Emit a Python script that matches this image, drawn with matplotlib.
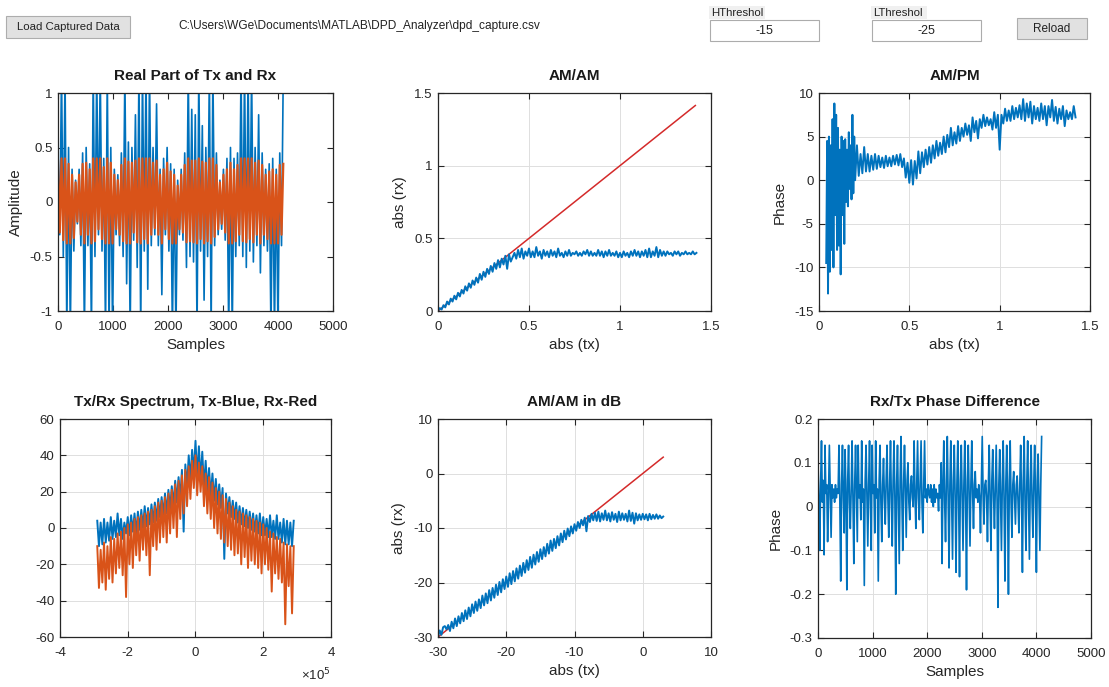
import matplotlib
matplotlib.use("Agg")
import matplotlib.pyplot as plt
import matplotlib.ticker as mticker
from matplotlib.patches import Rectangle
import numpy as np

plt.rcParams['font.family'] = ['Liberation Sans', 'DejaVu Sans']
plt.rcParams['axes.unicode_minus'] = False

blue = '#0072BD'
orange = '#D95319'
red = '#D42A2A'

# ---- data ----
# real part of tx / rx, one value every 32 samples
real_step = 32
tx_real = [0.45, -0.3, 1.2, -0.5, 1.2, -1.2, 0.5, -1.2, 0.3, -0.45,
           0.2, -0.2, 0.3, -0.4, 0.45, -1.2, 0.5, -0.4, 0.35, -1.2,
           1.2, -0.5, 1.2, -0.3, 1.2, -0.45, 0.4, -1.2, 1.2, -1.2,
           0.5, -1.2, 0.3, -0.3, 0.25, -0.4, 0.45, -0.5, 1.2, -0.75,
           0.55, -1.2, 0.5, -0.35, 0.8, -0.6, 1.2, -1.2, 1.2, -0.45,
           1.2, -0.8, 1.2, -0.4, 0.5, -0.3, 0.9, -0.4, 0.3, -0.85,
           0.4, -0.3, 0.5, -0.45, 0.35, -1.2, 0.3, -1.2, 0.2, -0.3,
           0.3, -0.35, 0.45, -0.6, 1.2, -0.5, 0.85, -0.55, 0.8, -1.2,
           1.2, -0.45, 0.7, -0.9, 0.5, -0.5, 1.2, -1.2, 1.2, -0.4,
           0.45, -0.3, 0.2, -0.25, 0.3, -0.35, 0.4, -1.2, 0.5, -1.2,
           0.4, -0.5, 0.45, -0.4, 1.2, -0.5, 1.2, -0.6, 1.2, -0.45,
           1.2, -0.55, 0.5, -0.4, 0.8, -0.65, 0.45, -0.4, 0.3, -0.45,
           0.35, -1.2, 0.4, -1.2, 0.3, -1.2, 0.45, -0.4, 1.2]
rx_real = [0.38, -0.28, 0.4, -0.35, 0.4, -0.38, 0.35, -0.38, 0.25, -0.33,
           0.18, -0.18, 0.25, -0.3, 0.35, -0.38, 0.36, -0.3, 0.3, -0.38,
           0.4, -0.36, 0.4, -0.25, 0.4, -0.34, 0.32, -0.38, 0.4, -0.38,
           0.36, -0.38, 0.25, -0.25, 0.2, -0.3, 0.34, -0.36, 0.4, -0.38,
           0.37, -0.38, 0.36, -0.28, 0.38, -0.37, 0.4, -0.38, 0.4, -0.34,
           0.4, -0.38, 0.4, -0.3, 0.36, -0.24, 0.38, -0.3, 0.25, -0.38,
           0.3, -0.25, 0.36, -0.34, 0.28, -0.38, 0.25, -0.38, 0.15, -0.25,
           0.25, -0.28, 0.34, -0.37, 0.4, -0.36, 0.38, -0.37, 0.38, -0.38,
           0.4, -0.34, 0.37, -0.38, 0.36, -0.36, 0.4, -0.38, 0.4, -0.32,
           0.34, -0.25, 0.18, -0.2, 0.25, -0.28, 0.3, -0.38, 0.36, -0.38,
           0.3, -0.36, 0.34, -0.3, 0.4, -0.36, 0.4, -0.37, 0.4, -0.34,
           0.4, -0.37, 0.36, -0.3, 0.38, -0.38, 0.34, -0.3, 0.25, -0.34,
           0.28, -0.38, 0.3, -0.38, 0.25, -0.38, 0.34, -0.3, 0.35]

# AM/AM (linear): rx magnitude for tx magnitude 0..1.42 in steps of 0.01
amam_rx = [0, 0.02, 0.01, 0.04, 0.025, 0.065, 0.045, 0.085, 0.065, 0.105,
           0.08, 0.125, 0.1, 0.145, 0.12, 0.17, 0.14, 0.19, 0.16, 0.21,
           0.18, 0.23, 0.195, 0.255, 0.215, 0.27, 0.235, 0.29, 0.255, 0.31,
           0.27, 0.33, 0.29, 0.35, 0.3, 0.36, 0.32, 0.38, 0.29, 0.39,
           0.34, 0.37,
           0.40, 0.36, 0.42, 0.37, 0.43, 0.36, 0.41, 0.38, 0.43, 0.37,
           0.41, 0.37, 0.44, 0.38, 0.41, 0.36, 0.42, 0.38, 0.41, 0.37,
           0.42, 0.38, 0.41, 0.37, 0.43, 0.38, 0.40, 0.37, 0.41, 0.38,
           0.42, 0.38, 0.40, 0.39, 0.41, 0.38, 0.40, 0.38, 0.41, 0.39,
           0.42, 0.38, 0.41, 0.38, 0.40, 0.38, 0.42, 0.38, 0.41, 0.37,
           0.41, 0.38, 0.42, 0.38, 0.40, 0.38, 0.41, 0.37, 0.40, 0.37,
           0.41, 0.38, 0.40, 0.37, 0.41, 0.38, 0.42, 0.38, 0.41, 0.37,
           0.41, 0.38, 0.42, 0.37, 0.43, 0.37, 0.41, 0.38, 0.44, 0.37,
           0.42, 0.38, 0.41, 0.38, 0.41, 0.39, 0.40, 0.38, 0.41, 0.39,
           0.41, 0.38, 0.40, 0.39, 0.41, 0.39, 0.40, 0.39, 0.41, 0.39,
           0.40]
amam_tx = np.arange(len(amam_rx)) * 0.01
ideal = [0, 1.414]

# AM/PM, phase (deg) for tx 0.040..0.195 (step 0.005) then 0.20..1.42 (step 0.01)
ampm_phase = [-9.5, 4.5, -13, 5, -10.5, 4, -8, 7, -10, 8.8,
              -4, 7.5, -8, 6, -7.5, 3.5, -10.8, 5, -4, 4.5,
              -7.3, 4.7, -2.5, 3.5, -3, 5.5, -1, 4, -2.2, 7.5, -1.5, 5,
              0, 4, 0.5, 3, 0.8, 3.8, 1, 3, 1, 2.8,
              1.2, 3, 1.3, 2.8, 1.5, 2.6, 1.4, 2.8, 1.6, 2.6,
              1.6, 2.8, 1.8, 2.9, 1.7, 3, 1.5, 2.5, 0.3, 2,
              -0.3, 2.3, -0.5, 2.2, 0.2, 3.3, 0.8, 3.2, 1.5, 3.5,
              1.8, 3.8, 2, 4, 2.5, 4.5, 2.8, 4.3, 3, 5,
              3.2, 5.2, 3.8, 6, 4, 5.5, 4.2, 6.2, 4.5, 6,
              5, 6.5, 5.2, 6.3, 4.5, 7.2, 5.5, 6.8, 4.8, 7,
              6, 7.5, 6.2, 7.2, 6.3, 7, 5.8, 7.8, 6, 7.5,
              3.5, 7.5, 6.5, 8.2, 6.8, 8, 6.8, 8.5, 7, 8.3,
              7.2, 8.6, 7, 9.3, 6.8, 8.8, 7.2, 9, 6.5, 8.5,
              7, 8.3, 6.8, 8.8, 7, 8.5, 6.3, 8.5, 7.2, 9.2,
              6.8, 8.4, 6.5, 8.2, 7, 8.5, 6.2, 8, 7, 7.8,
              7, 8.5, 7.2]
ampm_tx = np.concatenate([0.04 + np.arange(32) * 0.005, 0.20 + np.arange(123) * 0.01])

# spectrum, one value every 5 kHz from -290 kHz to 290 kHz
freq_step = 5000
tx_spec = [4, -10, 3, -9, 5, -8, 3, -7, 6, -6,
           4, -5, 8, -4, 5, -6, 3, -3, 6, -4,
           7, -2, 8, -3, 9, -1, 10, 0, 12, 1,
           11, 2, 13, 3, 14, 4, 16, 6, 17, 7,
           19, 8, 21, 10, 23, 12, 26, 14, 28, 16,
           32, -2, 35, 22, 40, 26, 43, 30, 48, 28,
           45, 26, 42, 22, 37, 20, 33, 17, 30, 15,
           27, 13, 24, 11, 22, -17, 19, 8, 17, 6,
           15, 5, 14, 3, 12, 2, 11, 1, 10, 0,
           9, -1, 8, -2, 7, -3, 8, -4, 6, -4,
           5, -5, 7, -5, 4, -6, 7, -6, 3, -8,
           5, -9, 4, -9, 3, -10, 4]
rx_spec = [-10, -33, -12, -30, -8, -34, -10, -28, -5, -30,
           -6, -25, -3, -22, -2, -26, 0, -38, 2, -20,
           3, -22, 5, -15, 6, -18, 7, -12, 8, -15,
           9, -26, 10, -10, 12, -12, 14, -8, 15, -5,
           17, -8, 19, -3, 21, 0, 24, -5, 26, 5,
           29, 8, 32, 12, 34, 16, 37, 22, 40, 18,
           36, 20, 34, 12, 30, 8, 28, 5, 25, 0,
           22, -3, 20, -6, 18, -8, 16, -10, 14, -12,
           12, -15, 10, -14, 9, -20, 8, -16, 7, -22,
           6, -18, 5, -20, 4, -22, 3, -25, 2, -20,
           0, -23, -2, -35, -3, -25, -5, -28, -6, -30,
           -8, -53, -9, -32, -10, -47, -10]

# AM/AM in dB, rx for tx = -30..3 dB (step 0.25)
amam_db_rx = [-30, -28.8, -29.6, -28.2, -28.0, -28.6, -27.8, -28.9, -27.2, -28.4,
              -26.6, -28.0, -26.2, -27.5, -25.6, -27.1, -25.1, -26.7, -24.6, -26.2,
              -24.0, -25.6, -23.5, -25.2, -23.1, -24.7, -22.4, -24.2, -22.0, -23.8,
              -21.4, -23.3, -21.0, -22.8, -20.4, -22.3, -19.9, -21.8, -19.4, -21.2,
              -18.9, -20.8, -18.3, -20.3, -17.9, -19.8, -17.4, -19.3, -16.9, -18.8,
              -16.4, -18.2, -15.9, -17.7, -15.3, -17.3, -14.9, -16.7, -14.4, -16.2,
              -13.9, -15.7, -13.5, -15.2, -12.9, -14.7, -12.3, -14.2, -12.0, -13.7,
              -11.5, -13.2, -11.0, -12.6, -10.5, -12.1, -10.1, -11.5, -9.7, -11.0,
              -9.3, -10.5, -8.9, -10.0, -8.5, -9.5, -8.1, -10.6, -7.8, -8.9,
              -7.4, -8.6, -7.2, -8.7, -7.0, -8.8, -7.3, -8.5, -6.8, -8.6,
              -7.3, -8.8, -7.1, -8.5, -7.4, -8.9, -7.0, -8.6, -7.3, -8.5,
              -7.4, -8.8, -6.8, -8.7, -7.2, -9.2, -7.3, -8.6, -7.5, -8.5,
              -7.4, -8.4, -7.5, -8.6, -7.4, -8.4, -7.6, -8.3, -7.5, -8.3,
              -7.7, -8.2, -7.9]
amam_db_tx = -30 + np.arange(len(amam_db_rx)) * 0.25
ideal_db = [-30, 3]

# rx/tx phase difference, one value every 16 samples
ph_step = 16
ph_diff = [0.10, 0.02, -0.10, 0.05, 0.15, 0.01, 0.06, -0.11, 0.14, 0.03, 0.05, -0.08, 0.02, 0.14, 0.04, -0.07,
           0.05, 0.02, 0.04, 0.01, 0.05, 0.02, 0.04, 0.03, 0.14, 0.01, -0.17, 0.05, 0.14, 0.02, -0.06, 0.13,
           0.03, -0.19, 0.06, 0.14, 0.01, -0.05, 0.04, 0.15, 0.02, -0.13, 0.05, 0.14, 0.03, -0.08, 0.14, 0.02,
           0.05, -0.03, 0.15, 0.01, 0.04, -0.18, 0.06, 0.14, 0.02, -0.09, 0.05, 0.15, 0.01, -0.10, 0.14, 0.03,
           0.05, -0.06, 0.15, 0.02, 0.04, -0.17, 0.06, 0.14, 0.01, -0.08, 0.05, 0.11, 0.02, -0.04, 0.06, 0.14,
           0.02, -0.07, 0.05, 0.15, 0.01, -0.09, 0.06, 0.15, 0.02, -0.20, 0.05, 0.14, 0.01, -0.13, 0.06, 0.16,
           0.02, -0.10, 0.05, 0.14, 0.03, -0.07, 0.06, 0.10, 0.01, -0.03, 0.05, 0.07, 0.02, 0.00, 0.15, 0.03,
           -0.05, 0.05, 0.15, 0.02, -0.03, 0.06, 0.15, 0.01, -0.06, 0.05, 0.15, 0.02, 0.04, 0.01, 0.05, 0.03,
           0.02, 0.05, 0.01, 0.04, 0.00, 0.05, 0.01, 0.04, 0.02, 0.03, -0.01, 0.05, 0.02, 0.10, -0.13, 0.05,
           0.15, 0.01, -0.08, 0.06, 0.16, 0.02, -0.14, 0.05, 0.15, 0.01, -0.12, 0.06, 0.14, 0.02, -0.15, 0.05,
           0.15, 0.01, -0.16, 0.06, 0.14, 0.02, -0.10, 0.05, 0.15, 0.01, -0.19, 0.06, 0.14, 0.02, -0.09, 0.05,
           0.15, 0.03, -0.05, 0.05, 0.08, 0.02, 0.04, 0.01, 0.05, 0.02, -0.06, 0.05, 0.16, 0.03, -0.04, 0.05,
           0.06, 0.02, -0.08, 0.05, 0.14, 0.01, -0.10, 0.06, 0.13, 0.02, -0.05, 0.05, 0.14, 0.01, -0.23, 0.05,
           0.13, 0.02, -0.10, 0.06, 0.15, 0.01, -0.17, 0.05, 0.14, 0.02, -0.20, 0.06, 0.15, 0.01, -0.07, 0.05,
           0.08, 0.02, -0.04, 0.05, 0.07, 0.01, -0.06, 0.05, 0.14, 0.02, -0.15, 0.06, 0.16, 0.01, -0.10, 0.05,
           0.15, 0.02, -0.12, 0.06, 0.14, 0.01, -0.07, 0.05, 0.14, 0.02, -0.15, 0.06, 0.12, 0.01, -0.10, 0.05,
           0.16]

path_text = r"C:\Users\WGe\Documents\MATLAB\DPD_Analyzer\dpd_capture.csv"
hthresh = "-15"
lthresh = "-25"

# ---- figure ----
W, H = 1109, 687
fig = plt.figure(figsize=(W / 100, H / 100), dpi=100)


def box(x0, x1, y0, y1):
    # pixel box -> figure fraction [left, bottom, width, height]
    return [x0 / W, 1 - y1 / H, (x1 - x0) / W, (y1 - y0) / H]


def gfmt(v, p):
    return '%g' % v


def style(ax, title, xlabel=None, ylabel=None, grid=True):
    ax.set_title(title, fontsize=11, fontweight='bold', pad=9.5, color='#1a1a1a')
    if xlabel:
        ax.set_xlabel(xlabel, fontsize=11, labelpad=4, color='#262626')
    if ylabel:
        ax.set_ylabel(ylabel, fontsize=11, labelpad=5, color='#262626')
    ax.tick_params(direction='in', top=True, right=True, labelsize=9.5,
                   length=4, width=0.8, color='#262626', labelcolor='#262626')
    ax.tick_params(axis='x', pad=7)
    ax.tick_params(axis='y', pad=4)
    for s in ax.spines.values():
        s.set_linewidth(0.9)
        s.set_color('#262626')
    if grid:
        ax.grid(True, color='#dedede', linewidth=0.7)
        ax.set_axisbelow(True)
    ax.yaxis.set_major_formatter(mticker.FuncFormatter(gfmt))


lw = 1.4

# Real part of tx and rx
ax1 = fig.add_axes(box(58, 333, 93, 311))
x_real = np.arange(len(tx_real)) * real_step
ax1.plot(x_real, tx_real, color=blue, lw=1.2)
ax1.plot(x_real, rx_real, color=orange, lw=1.6)
ax1.set_xlim(0, 5000)
ax1.set_ylim(-1, 1)
ax1.set_xticks(range(0, 5001, 1000))
ax1.set_yticks([-1, -0.5, 0, 0.5, 1])
style(ax1, 'Real Part of Tx and Rx', 'Samples', 'Amplitude', grid=False)

# AM/AM (ideal line under the measured curve)
ax2 = fig.add_axes(box(438, 711, 93, 311))
ax2.plot(ideal, ideal, color=red, lw=1.1)
ax2.plot(amam_tx, amam_rx, color=blue, lw=lw)
ax2.set_xlim(0, 1.5)
ax2.set_ylim(0, 1.5)
ax2.set_xticks([0, 0.5, 1, 1.5])
ax2.set_yticks([0, 0.5, 1, 1.5])
ax2.xaxis.set_major_formatter(mticker.FuncFormatter(gfmt))
style(ax2, 'AM/AM', 'abs (tx)', 'abs (rx)')

# AM/PM
ax3 = fig.add_axes(box(819, 1090, 93, 311))
ax3.plot(ampm_tx, ampm_phase, color=blue, lw=lw)
ax3.set_xlim(0, 1.5)
ax3.set_ylim(-15, 10)
ax3.set_xticks([0, 0.5, 1, 1.5])
ax3.set_yticks(range(-15, 11, 5))
ax3.xaxis.set_major_formatter(mticker.FuncFormatter(gfmt))
style(ax3, 'AM/PM', 'abs (tx)', 'Phase')

# spectrum
ax4 = fig.add_axes(box(60, 331, 419, 637))
f = -290000 + np.arange(len(tx_spec)) * freq_step
ax4.plot(f, tx_spec, color=blue, lw=lw)
ax4.plot(f, rx_spec, color=orange, lw=lw)
ax4.set_xlim(-4e5, 4e5)
ax4.set_ylim(-60, 60)
ax4.set_xticks([-4e5, -2e5, 0, 2e5, 4e5])
ax4.set_yticks(range(-60, 61, 20))
ax4.xaxis.set_major_formatter(mticker.FuncFormatter(lambda v, p: '%g' % (v / 1e5)))
style(ax4, 'Tx/Rx Spectrum, Tx-Blue, Rx-Red')
ax4.text(1.0, -0.135, '\u00d710$^{5}$', transform=ax4.transAxes, ha='right', va='top',
         fontsize=9.5, color='#262626')

# AM/AM in dB
ax5 = fig.add_axes(box(438, 711, 419, 637))
ax5.plot(ideal_db, ideal_db, color=red, lw=1.1)
ax5.plot(amam_db_tx, amam_db_rx, color=blue, lw=lw)
ax5.set_xlim(-30, 10)
ax5.set_ylim(-30, 10)
ax5.set_xticks(range(-30, 11, 10))
ax5.set_yticks(range(-30, 11, 10))
ax5.xaxis.set_major_formatter(mticker.FuncFormatter(gfmt))
style(ax5, 'AM/AM in dB', 'abs (tx)', 'abs (rx)')

# phase difference
ax6 = fig.add_axes(box(818, 1091, 419, 638))
x_ph = np.arange(len(ph_diff)) * ph_step
ax6.plot(x_ph, ph_diff, color=blue, lw=1.2)
ax6.set_xlim(0, 5000)
ax6.set_ylim(-0.3, 0.2)
ax6.set_xticks(range(0, 5001, 1000))
ax6.set_yticks([-0.3, -0.2, -0.1, 0, 0.1, 0.2])
style(ax6, 'Rx/Tx Phase Difference', 'Samples', 'Phase')

# ---- GUI controls along the top ----
def button(x0, x1, y0, y1, label, face='#e1e1e1', edge='#adadad', size=8):
    fig.patches.append(Rectangle((x0 / W, 1 - y1 / H), (x1 - x0) / W, (y1 - y0) / H,
                                 transform=fig.transFigure, facecolor=face,
                                 edgecolor=edge, linewidth=0.8))
    fig.text((x0 + x1) / 2 / W, 1 - (y0 + y1) / 2 / H, label, fontsize=size,
             ha='center', va='center', color='#222222')


button(6, 130, 16, 38, 'Load Captured Data', size=8.2)
fig.text(178 / W, 1 - 26 / H, path_text, fontsize=8.6, ha='left', va='center', color='#222222')

fig.patches.append(Rectangle((709 / W, 1 - 19 / H), 56 / W, 13 / H, transform=fig.transFigure,
                             facecolor='#f0f0f0', edgecolor='none'))
fig.text(711 / W, 1 - 13 / H, 'HThreshol', fontsize=8.2, ha='left', va='center', color='#222222')
button(710, 819, 20, 41, hthresh, face='white', edge='#acacac', size=9)

fig.patches.append(Rectangle((871 / W, 1 - 19 / H), 56 / W, 13 / H, transform=fig.transFigure,
                             facecolor='#f0f0f0', edgecolor='none'))
fig.text(873 / W, 1 - 13 / H, 'LThreshol', fontsize=8.2, ha='left', va='center', color='#222222')
button(872, 981, 20, 41, lthresh, face='white', edge='#acacac', size=9)

button(1017, 1087, 18, 39, 'Reload', size=8.5)

fig.savefig('out.png', dpi=100)
